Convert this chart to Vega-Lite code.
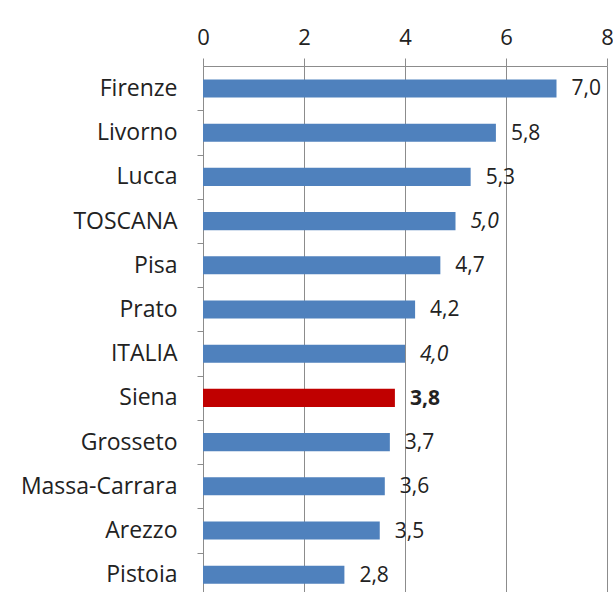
{
  "$schema": "https://vega.github.io/schema/vega-lite/v6.json",
  "width": 404,
  "height": 526,
  "autosize": {"type": "none"},
  "padding": {"left": 203, "top": 66, "right": 6, "bottom": 0},
  "background": "white",
  "config": {
    "view": {"stroke": null},
    "font": "Open Sans",
    "locale": {"number": {"decimal": ",", "thousands": ".", "grouping": [3], "currency": ["", " €"]}}
  },
  "data": {
    "values": [
      {"area": "Firenze", "value": 7.0},
      {"area": "Livorno", "value": 5.8},
      {"area": "Lucca", "value": 5.3},
      {"area": "TOSCANA", "value": 5.0},
      {"area": "Pisa", "value": 4.7},
      {"area": "Prato", "value": 4.2},
      {"area": "ITALIA", "value": 4.0},
      {"area": "Siena", "value": 3.8},
      {"area": "Grosseto", "value": 3.7},
      {"area": "Massa-Carrara", "value": 3.6},
      {"area": "Arezzo", "value": 3.5},
      {"area": "Pistoia", "value": 2.8}
    ]
  },
  "encoding": {
    "y": {
      "field": "area", "type": "nominal", "sort": null,
      "scale": {"paddingInner": 0.59, "paddingOuter": 0.245, "align": 0.62},
      "axis": {
        "title": null, "labelFontSize": 23, "labelColor": "#222", "labelPadding": 20,
        "tickOffset": 22, "labelOffset": -22, "tickSize": 6, "tickColor": "#8c8c8c", "domainColor": "#8c8c8c", "grid": false
      }
    },
    "x": {
      "field": "value", "type": "quantitative",
      "scale": {"domain": [0, 8], "nice": false},
      "axis": {
        "orient": "top", "title": null, "values": [0, 2, 4, 6, 8], "format": "d", "labelFlush": false,
        "labelFontSize": 22, "labelColor": "#222", "labelPadding": 9, "tickSize": 8,
        "tickColor": "#8c8c8c", "domainColor": "#8c8c8c", "grid": true, "gridColor": "#8c8c8c", "gridOpacity": 1
      }
    }
  },
  "layer": [
    {
      "mark": {"type": "bar"},
      "encoding": {
        "color": {"condition": {"test": "datum.area === 'Siena'", "value": "#C00000"}, "value": "#4F81BD"}
      }
    },
    {
      "transform": [{"filter": "datum.area !== 'Siena' && datum.area !== 'TOSCANA' && datum.area !== 'ITALIA'"}],
      "mark": {"type": "text", "align": "left", "baseline": "middle", "dx": 15, "dy": 1, "fontSize": 21, "color": "#222"},
      "encoding": {"text": {"field": "value", "type": "quantitative", "format": ".1f"}}
    },
    {
      "transform": [{"filter": "datum.area === 'TOSCANA' || datum.area === 'ITALIA'"}],
      "mark": {"type": "text", "align": "left", "baseline": "middle", "dx": 15, "dy": 1, "fontSize": 21, "fontStyle": "italic", "color": "#222"},
      "encoding": {"text": {"field": "value", "type": "quantitative", "format": ".1f"}}
    },
    {
      "transform": [{"filter": "datum.area === 'Siena'"}],
      "mark": {"type": "text", "align": "left", "baseline": "middle", "dx": 15, "dy": 1, "fontSize": 21, "fontWeight": "bold", "color": "#222"},
      "encoding": {"text": {"field": "value", "type": "quantitative", "format": ".1f"}}
    }
  ]
}
